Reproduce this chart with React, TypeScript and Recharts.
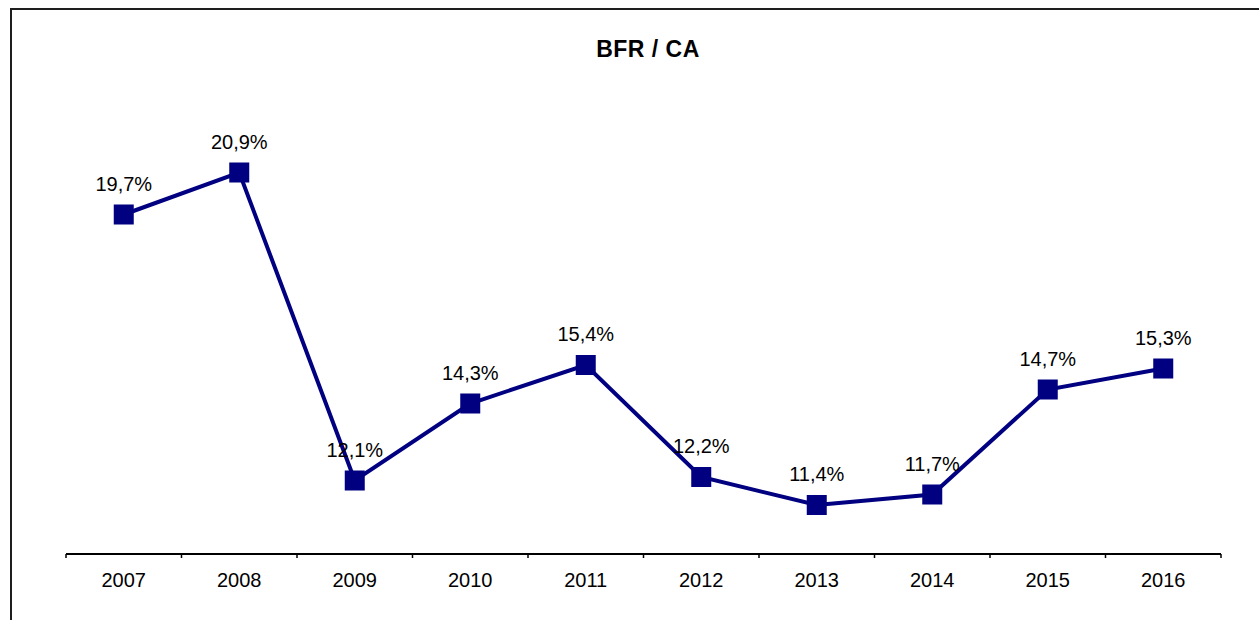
import React from 'react';
import { LineChart, Line, XAxis, YAxis, LabelList } from 'recharts';

const years = ['2007', '2008', '2009', '2010', '2011', '2012', '2013', '2014', '2015', '2016'];
const ratios = [19.7, 20.9, 12.1, 14.3, 15.4, 12.2, 11.4, 11.7, 14.7, 15.3];
const title = 'BFR / CA';

const data = years.map((year, i) => ({ year, value: ratios[i] }));

const NAVY = '#000080';
const FONT = '"Liberation Sans", Arial, Helvetica, sans-serif';
const CHART_W = 1260;
const CHART_H = 640;
const MARGIN = { top: 124, right: 51, left: 54, bottom: 66 };
const BAND = (CHART_W - MARGIN.left - MARGIN.right) / years.length;

const fmt = (v: any) => Number(v).toFixed(1).replace('.', ',') + '%';

const SquareDot = (props: any) => {
  const { cx, cy } = props;
  if (cx == null || cy == null) return null;
  return <rect x={cx - 10} y={cy - 10} width={20} height={20} fill={NAVY} />;
};

const Tick = (props: any) => {
  const { x, y, payload, index } = props;
  const last = index === years.length - 1;
  return (
    <g>
      <line x1={x - BAND / 2} x2={x - BAND / 2} y1={y} y2={y + 4} stroke="#000" strokeWidth={1.5} />
      {last && <line x1={x + BAND / 2} x2={x + BAND / 2} y1={y} y2={y + 4} stroke="#000" strokeWidth={1.5} />}
      <text x={x} y={y + 33} textAnchor="middle" fontFamily={FONT} fontSize={20} fill="#000">
        {payload.value}
      </text>
    </g>
  );
};

export default function App() {
  return (
    <div style={{ position: 'fixed', left: 0, top: 0, width: 1259, height: 620, overflow: 'hidden', background: '#fff' }}>
      <div
        style={{
          position: 'absolute',
          left: 10,
          top: 8,
          width: CHART_W,
          height: CHART_H,
          border: '2px solid #1e1e1e',
          background: '#fff',
        }}
      >
        <div
          style={{
            position: 'absolute',
            left: 636 - 200,
            top: 26,
            width: 400,
            textAlign: 'center',
            fontFamily: FONT,
            fontWeight: 'bold',
            fontSize: 23,
            letterSpacing: 0.5,
            color: '#000',
          }}
        >
          {title}
        </div>
        <LineChart width={CHART_W} height={CHART_H} data={data} margin={MARGIN}>
          <XAxis
            dataKey="year"
            interval={0}
            tickLine={false}
            tickSize={0}
            tickMargin={0}
            padding={{ left: BAND / 2, right: BAND / 2 }}
            axisLine={{ stroke: '#000', strokeWidth: 2 }}
            tick={<Tick />}
            height={30}
          />
          <YAxis hide domain={[10, 22]} />
          <Line
            type="linear"
            dataKey="value"
            stroke={NAVY}
            strokeWidth={4}
            dot={<SquareDot />}
            activeDot={false}
            isAnimationActive={false}
          >
            <LabelList
              dataKey="value"
              position="top"
              offset={24}
              formatter={fmt}
              style={{ fontFamily: FONT, fontSize: 20, fill: '#000' }}
            />
          </Line>
        </LineChart>
      </div>
    </div>
  );
}
